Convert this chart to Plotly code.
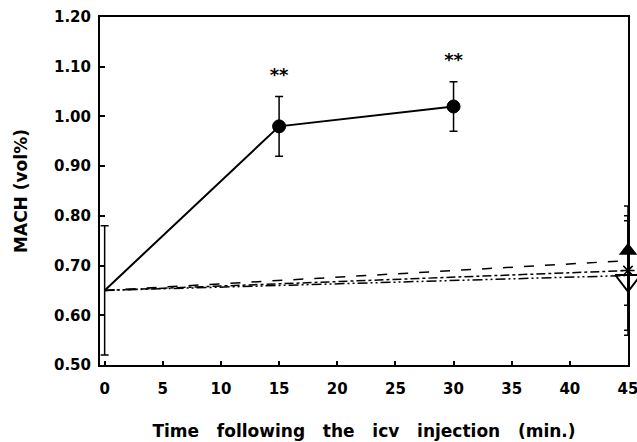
import plotly.graph_objects as go

# ---- data ----
time_ctrl = [0, 15, 30]
mach_ctrl = [0.65, 0.98, 1.02]
err_ctrl = [0.13, 0.06, 0.05]

line_x = [0, 45]
line_dash_y = [0.65, 0.71]
line_dashdot_y = [0.65, 0.69]
line_dashdot2_y = [0.65, 0.68]

end_x = [45]
tri_up_y = [0.73]
tri_up_plus = [0.09]
tri_up_minus = [0.11]
star_y = [0.69]
star_plus = [0.11]
star_minus = [0.12]
tri_down_y = [0.67]
tri_down_plus = [0.12]
tri_down_minus = [0.11]

sig_x = [15, 30]
sig_y = [1.081, 1.11]
sig_text = ["**", "**"]

x_ticks = [0, 5, 10, 15, 20, 25, 30, 35, 40, 45]
y_ticks = [0.50, 0.60, 0.70, 0.80, 0.90, 1.00, 1.10, 1.20]

FONT = "DejaVu Sans, Liberation Sans, sans-serif"

fig = go.Figure()

fig.add_trace(go.Scatter(x=line_x, y=line_dash_y, mode="lines",
                         line=dict(color="black", width=1.5, dash="10px,11px"),
                         showlegend=False, cliponaxis=False))
fig.add_trace(go.Scatter(x=line_x, y=line_dashdot_y, mode="lines",
                         line=dict(color="black", width=1.5, dash="9px,3px,3px,3px"),
                         showlegend=False, cliponaxis=False))
fig.add_trace(go.Scatter(x=line_x, y=line_dashdot2_y, mode="lines",
                         line=dict(color="black", width=1.5, dash="10px,3px,2px,3px,2px,3px"),
                         showlegend=False, cliponaxis=False))

fig.add_trace(go.Scatter(x=time_ctrl, y=mach_ctrl, mode="lines+markers",
                         line=dict(color="black", width=2),
                         marker=dict(symbol="circle", size=[0, 13, 13], color="black",
                                     opacity=1, line=dict(color="black", width=1)),
                         error_y=dict(type="data", array=err_ctrl, color="black",
                                      thickness=1.5, width=4),
                         showlegend=False, cliponaxis=False))

fig.add_trace(go.Scatter(x=end_x, y=tri_down_y, mode="markers",
                         marker=dict(symbol="triangle-down-open", size=22, color="black",
                                     line=dict(width=2)),
                         error_y=dict(type="data", symmetric=False, array=tri_down_plus,
                                      arrayminus=tri_down_minus, color="black",
                                      thickness=1.5, width=4),
                         showlegend=False, cliponaxis=False))
fig.add_trace(go.Scatter(x=end_x, y=star_y, mode="markers",
                         marker=dict(symbol="asterisk-open", size=11, color="black",
                                     line=dict(width=1.5, color="black")),
                         error_y=dict(type="data", symmetric=False, array=star_plus,
                                      arrayminus=star_minus, color="black",
                                      thickness=1.5, width=4),
                         showlegend=False, cliponaxis=False))
fig.add_trace(go.Scatter(x=end_x, y=tri_up_y, mode="markers",
                         marker=dict(symbol="triangle-up", size=16, color="black"),
                         error_y=dict(type="data", symmetric=False, array=tri_up_plus,
                                      arrayminus=tri_up_minus, color="black",
                                      thickness=1.5, width=4),
                         showlegend=False, cliponaxis=False))

fig.add_trace(go.Scatter(x=sig_x, y=sig_y, mode="text", text=sig_text,
                         textfont=dict(family=FONT, size=18, color="black", weight="bold"),
                         textposition="middle center",
                         showlegend=False, cliponaxis=False))

fig.update_layout(
    width=637, height=442,
    margin=dict(l=100, r=9, t=17, b=77, autoexpand=False),
    paper_bgcolor="white", plot_bgcolor="white",
    font=dict(family=FONT, color="black"),
)
fig.update_xaxes(
    range=[-0.4, 45], tickvals=x_ticks,
    ticktext=[f"<b>{v}</b>" for v in x_ticks],
    tickfont=dict(size=15, family=FONT),
    ticks="inside", ticklen=4, tickwidth=1.5, tickcolor="black",
    ticklabelstandoff=9, automargin=False, ticklabeloverflow="allow",
    showline=True, linecolor="black", linewidth=2, mirror=True,
    showgrid=False, zeroline=False,
    title=dict(text="<b>Time   following   the   icv   injection   (min.)</b>",
               font=dict(size=17, family=FONT), standoff=28),
)
fig.update_yaxes(
    range=[0.5, 1.2], tickvals=y_ticks,
    ticktext=[f"<b>{v:.2f}</b>" for v in y_ticks],
    tickfont=dict(size=15, family=FONT),
    ticks="inside", ticklen=5, tickwidth=1.5, tickcolor="black",
    ticklabelstandoff=4, automargin=False, ticklabeloverflow="allow",
    showline=True, linecolor="black", linewidth=2, mirror=True,
    showgrid=False, zeroline=False,
    title=dict(text="<b>MACH (vol%)</b>", font=dict(size=17, family=FONT), standoff=22),
)

# remove the page's default body margin so the 637x442 figure fills the window exactly
fig.write_html("out.html",
               config={"displayModeBar": False},
               post_script="document.body.style.margin='0';document.body.style.overflow='hidden';")
